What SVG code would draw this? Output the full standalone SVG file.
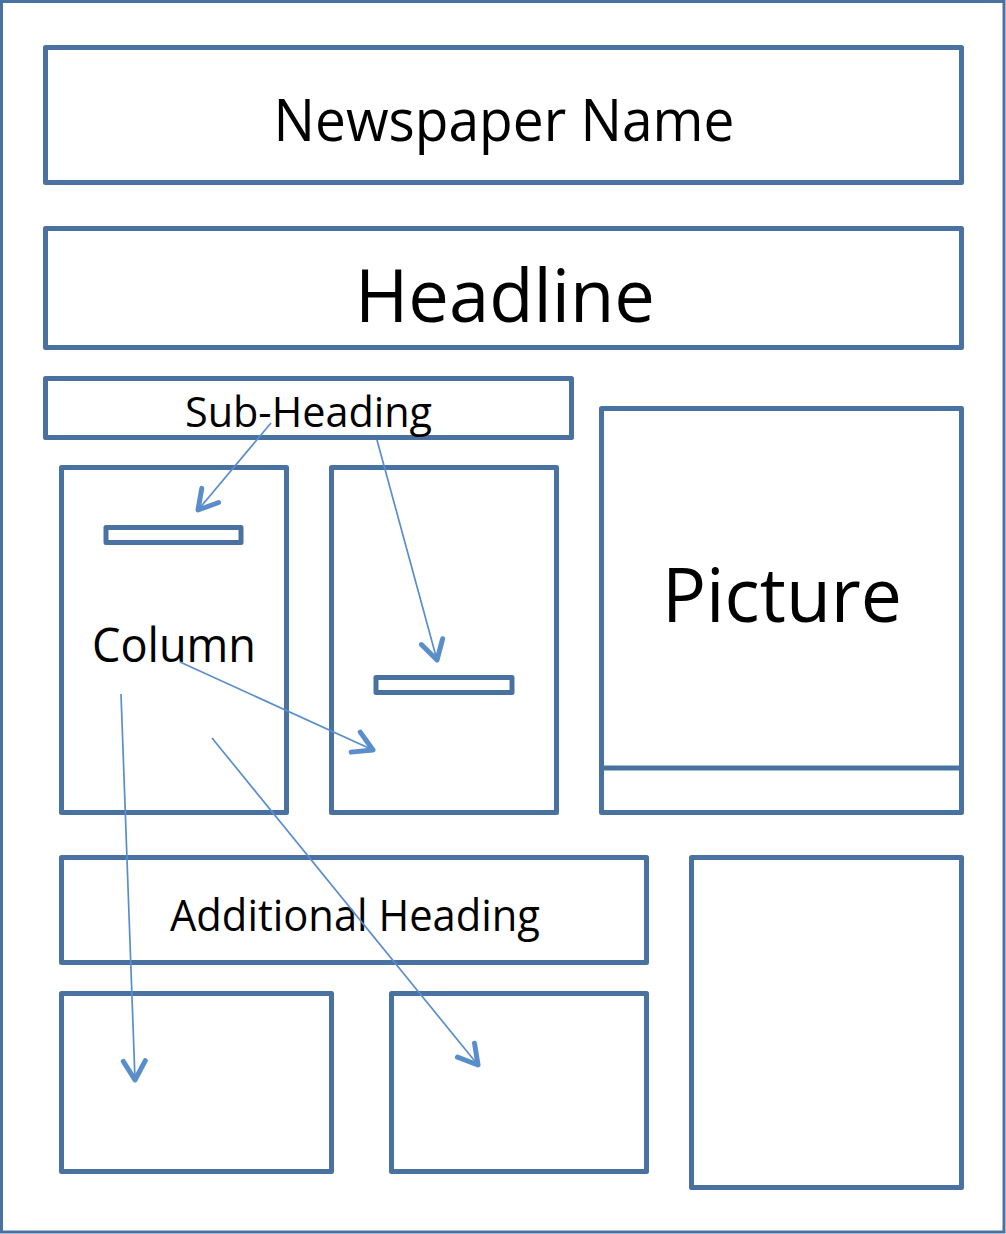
<svg xmlns="http://www.w3.org/2000/svg" width="1006" height="1234" viewBox="0 0 1006 1234">
<style>
.box{fill:#fff;stroke:#4A72A0;stroke-width:5;stroke-linejoin:round}
.outer{fill:#fff;stroke:#4A72A0;stroke-width:3}
.t{font-family:"Open Sans","Liberation Sans",sans-serif;fill:#000;text-anchor:middle}
.arr{fill:none;stroke:#5A8ECB;stroke-width:1.7;marker-end:url(#ah)}
</style>
<defs>
<marker id="ah" markerUnits="userSpaceOnUse" viewBox="-26 -16 32 32" markerWidth="32" markerHeight="32" refX="0" refY="0" orient="auto">
<path d="M-19,-11 L0,0 L-19,11" fill="none" stroke="#5A8ECB" stroke-width="5" stroke-linecap="round" stroke-linejoin="round"/>
</marker>
</defs>
<rect class="outer" x="1.5" y="1.5" width="1002.5" height="1230.5"/>
<g id="newspaper-name"><rect class="box" x="45.5" y="47.5" width="916" height="135"/><text class="t" x="504" y="141" font-size="58" textLength="461" lengthAdjust="spacingAndGlyphs">Newspaper Name</text></g>
<g id="headline"><rect class="box" x="45.5" y="228.5" width="916" height="119"/><text class="t" x="505" y="322" font-size="73" textLength="300" lengthAdjust="spacingAndGlyphs">Headline</text></g>
<g id="sub-heading"><rect class="box" x="45.5" y="378.5" width="526" height="59"/><text class="t" x="308.5" y="427" font-size="42" textLength="247" lengthAdjust="spacingAndGlyphs">Sub-Heading</text></g>
<g id="column1"><rect class="box" x="61.5" y="467.5" width="225" height="345"/><rect class="box" x="106" y="527.5" width="135" height="15"/><text class="t" x="174" y="662" font-size="47" textLength="164" lengthAdjust="spacingAndGlyphs">Column</text></g>
<g id="column2"><rect class="box" x="331.5" y="467.5" width="225" height="345"/><rect class="box" x="376" y="677.5" width="136" height="15"/></g>
<g id="picture"><rect class="box" x="601.5" y="408.5" width="360" height="404"/><line x1="601.5" y1="768" x2="961.5" y2="768" stroke="#4A72A0" stroke-width="5"/><text class="t" x="782" y="622" font-size="75" textLength="240" lengthAdjust="spacingAndGlyphs">Picture</text></g>
<g id="additional-heading"><rect class="box" x="61.5" y="857.5" width="585" height="105"/><text class="t" x="355" y="931" font-size="44" textLength="370" lengthAdjust="spacingAndGlyphs">Additional Heading</text></g>
<g id="bottom-left"><rect class="box" x="61.5" y="993.5" width="270" height="178"/></g>
<g id="bottom-middle"><rect class="box" x="391.5" y="993.5" width="255" height="178"/></g>
<g id="right-box"><rect class="box" x="691.5" y="857.5" width="270" height="330"/></g>
<g id="connectors">
<line class="arr" x1="271" y1="423" x2="198" y2="510"/>
<line class="arr" x1="377" y1="440" x2="437" y2="660"/>
<line class="arr" x1="180" y1="662" x2="373" y2="750"/>
<line class="arr" x1="121" y1="694" x2="135" y2="1080"/>
<line class="arr" x1="212" y1="738" x2="478" y2="1065"/>
</g>
</svg>
